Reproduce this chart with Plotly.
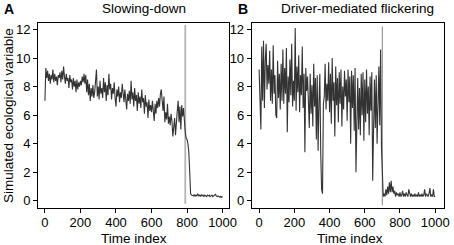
import plotly.graph_objects as go
from plotly.subplots import make_subplots

time_step = 5
values_a = [
    7.0, 9.3, 8.6, 9.1, 8.4, 8.9, 8.2, 8.8, 8.5, 9.2, 8.3, 8.9, 8.4, 8.7, 8.1, 8.8, 8.6, 9.0, 8.3, 9.1,
    8.5, 9.4, 8.7, 8.2, 8.9, 8.4, 8.6, 7.9, 8.8, 8.3, 8.5, 7.8, 8.6, 8.0, 8.4, 7.6, 8.5, 7.8, 8.3, 8.0,
    8.4, 8.1, 8.7, 8.3, 8.9, 8.2, 8.8, 7.6, 8.5, 7.4, 8.2, 7.0, 7.9, 7.3, 8.1, 7.2, 7.6, 8.3, 9.2, 7.3,
    8.0, 7.1, 8.4, 7.5, 7.9, 7.2, 8.6, 7.6, 8.3, 7.0, 8.1, 7.4, 8.9, 7.8, 8.2, 7.1, 7.9, 7.5, 8.3, 7.2,
    6.6, 7.8, 7.3, 8.0, 6.9, 7.6, 7.2, 8.2, 7.4, 6.9, 7.8, 7.1, 6.4, 7.5, 7.0, 7.7, 6.8, 8.4, 7.1, 7.6,
    6.6, 7.9, 7.0, 7.4, 6.3, 7.6, 6.8, 7.3, 6.5, 7.8, 6.9, 7.2, 6.1, 7.4, 6.6, 6.9, 5.8, 7.1, 6.3, 6.7,
    6.2, 7.0, 6.4, 5.6, 6.8, 6.1, 7.0, 6.5, 7.2, 6.6, 7.5, 7.8, 7.0, 6.3, 7.3, 5.5, 6.2, 5.7, 6.8, 5.4,
    5.9, 5.3, 6.1, 5.6, 4.5, 5.2, 5.8, 4.6, 5.9, 6.3, 7.0, 5.5, 6.6, 5.0, 6.7, 5.9, 6.5, 5.5, 4.8, 4.4,
    4.3, 4.0, 3.4, 2.0, 0.5, 0.4, 0.4, 0.35, 0.45, 0.3, 0.4, 0.35, 0.5, 0.35, 0.4, 0.3, 0.45, 0.35, 0.4, 0.3,
    0.4, 0.35, 0.3, 0.4, 0.35, 0.4, 0.3, 0.35, 0.4, 0.3, 0.35, 0.4, 0.45, 0.35, 0.3, 0.35, 0.3, 0.25, 0.3, 0.25, 0.3,
]
values_b = [
    9.2, 6.7, 5.0, 10.8, 7.0, 11.2, 6.5, 9.8, 11.0, 7.8, 9.5, 8.2, 10.5, 7.0, 9.2, 6.8, 10.9, 7.5, 8.8, 6.0,
    5.8, 9.8, 7.2, 8.9, 6.4, 9.6, 7.0, 10.6, 6.8, 9.3, 7.5, 10.7, 4.8, 8.7, 6.9, 9.9, 7.4, 11.0, 6.6, 8.4,
    7.0, 12.1, 6.3, 9.4, 7.6, 10.2, 6.2, 8.8, 7.4, 10.8, 6.5, 8.9, 3.4, 9.3, 7.7, 8.7, 6.9, 5.1, 8.9, 6.1,
    8.1, 5.2, 9.6, 6.6, 8.6, 4.3, 8.8, 3.5, 6.9, 8.9, 3.3, 0.8, 0.5, 6.8, 7.3, 9.6, 6.4, 8.2, 7.0, 9.7,
    6.2, 8.9, 5.4, 10.0, 7.0, 8.3, 4.5, 9.4, 6.7, 8.6, 5.5, 9.0, 6.8, 9.2, 5.2, 8.0, 6.4, 9.1, 7.3, 8.5,
    5.6, 9.2, 6.9, 8.7, 4.0, 9.1, 6.5, 8.8, 4.9, 9.3, 2.0, 6.9, 8.6, 5.0, 7.9, 4.6, 8.9, 6.0, 9.0, 4.2,
    8.5, 5.5, 9.2, 6.1, 8.0, 4.6, 8.7, 6.3, 9.0, 1.4, 6.2, 8.5, 5.1, 8.8, 4.0, 7.0, 9.4, 5.3, 10.6, 3.7,
    1.6, 0.3, 0.5, 0.3, 0.8, 0.4, 1.0, 0.5, 1.3, 0.6, 1.4, 0.6, 1.0, 0.5, 0.7, 0.3, 0.6, 0.4, 0.5, 0.3,
    0.6, 0.3, 0.4, 0.7, 0.3, 0.5, 0.3, 0.6, 0.4, 0.3, 0.8, 0.4, 0.3, 0.5, 0.3, 0.4, 0.3, 0.5, 0.3, 0.4,
    0.3, 0.6, 0.3, 0.4, 0.3, 0.5, 0.3, 0.4, 0.8, 0.3, 0.5, 0.4, 0.3, 0.5, 0.9, 0.3, 0.4, 0.3, 0.8, 0.3, 0.3,
]
time_a = [i * time_step for i in range(len(values_a))]
time_b = [i * time_step for i in range(len(values_b))]
transition_a = 790
transition_b = 700
panel_titles = ["Slowing-down", "Driver-mediated flickering"]
panel_letters = ["A", "B"]
x_ticks = [0, 200, 400, 600, 800, 1000]
y_ticks = [0, 2, 4, 6, 8, 10, 12]

FONT = "Liberation Sans, Arial, sans-serif"

fig = make_subplots(rows=1, cols=2, horizontal_spacing=0.056)
fig.add_trace(go.Scatter(x=time_a, y=values_a, mode="lines",
                         line=dict(color="#333333", width=1.1)), row=1, col=1)
fig.add_trace(go.Scatter(x=time_b, y=values_b, mode="lines",
                         line=dict(color="#333333", width=1.1)), row=1, col=2)

# vertical transition markers
fig.add_shape(type="line", xref="x", yref="y", x0=transition_a, x1=transition_a,
              y0=-0.2, y1=12.3, line=dict(color="#b4b4b4", width=1.8), layer="below")
fig.add_shape(type="line", xref="x2", yref="y2", x0=transition_b, x1=transition_b,
              y0=-0.3, y1=12.2, line=dict(color="#9a9a9a", width=1.2), layer="below")

axis_common = dict(showline=True, linecolor="black", linewidth=1, mirror=True,
                   ticks="outside", ticklen=4, tickcolor="black", tickwidth=1,
                   showgrid=False, zeroline=False, automargin=False,
                   tickfont=dict(family=FONT, size=13, color="black"))

fig.update_xaxes(**axis_common, tickvals=x_ticks, ticklabelstandoff=-2)
fig.update_yaxes(**axis_common, tickvals=y_ticks, range=[-0.5, 12.45])
fig.update_xaxes(range=[-39, 1036], domain=[0, 0.4704], row=1, col=1)
fig.update_xaxes(range=[-42, 1050], domain=[0.5264, 1], row=1, col=2)

ann = []
for x, t in zip([0.260, 0.788], panel_titles):
    ann.append(dict(x=x, y=1.076, xref="paper", yref="paper", text=t, showarrow=False,
                    xanchor="center", yanchor="middle",
                    font=dict(family=FONT, size=13.5, color="black")))
for x, t in zip([-0.0714, 0.5037], panel_letters):
    ann.append(dict(x=x, y=1.073, xref="paper", yref="paper", text="<b>" + t + "</b>",
                    showarrow=False, xanchor="center", yanchor="middle",
                    font=dict(family=FONT, size=14, color="black")))
for x in [0.236, 0.768]:
    ann.append(dict(x=x, y=-0.165, xref="paper", yref="paper", text="Time index",
                    showarrow=False, xanchor="center", yanchor="middle",
                    font=dict(family=FONT, size=13.5, color="black")))
ann.append(dict(x=-0.0727, y=0.5, xref="paper", yref="paper",
                text="Simulated ecological variable", textangle=-90, showarrow=False,
                xanchor="center", yanchor="middle",
                font=dict(family=FONT, size=13.5, color="black")))

fig.update_layout(width=454, height=245, margin=dict(l=38, r=10, t=23, b=37),
                  paper_bgcolor="white", plot_bgcolor="white", showlegend=False,
                  annotations=ann)

fig.write_html("out.html", config={"displayModeBar": False},
               post_script="document.body.style.margin='0';document.body.style.overflow='hidden';")
